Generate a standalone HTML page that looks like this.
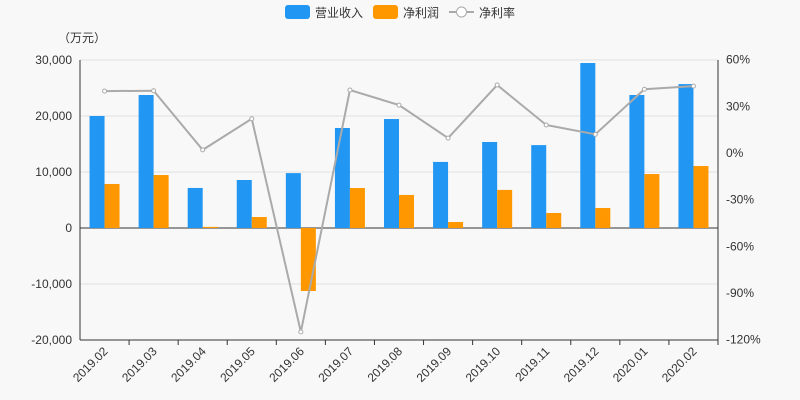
<!DOCTYPE html>
<html><head><meta charset="utf-8"><style>
body{margin:0;background:#f8f8f8;}
svg{display:block;font-family:"Liberation Sans","Noto Sans CJK SC",sans-serif;}
</style></head><body>
<svg id="c" width="800" height="400"></svg>
<script>
const categories=["2019.02","2019.03","2019.04","2019.05","2019.06","2019.07","2019.08","2019.09","2019.10","2019.11","2019.12","2020.01","2020.02"];
const revenue=[20000,23750,7150,8570,9800,17860,19460,11800,15360,14800,29460,23750,25700];
const profit=[7860,9460,200,1960,-11250,7140,5900,1070,6800,2680,3570,9640,11070];
const rate=[39.8,40,2,22,-115,40.5,30.8,9.6,43.7,18,12,41,43];
const leftTicks=[30000,20000,10000,0,-10000,-20000];
const leftLabels=["30,000","20,000","10,000","0","-10,000","-20,000"];
const rightTicks=[60,30,0,-30,-60,-90,-120];
const rightLabels=["60%","30%","0%","-30%","-60%","-90%","-120%"];
const NS="http://www.w3.org/2000/svg";
const svg=document.getElementById('c');
const X0=80,X1=718,step=(X1-X0)/categories.length;
const yL=v=>228-v*56/10000;
const yR=v=>153-v*(46.67/30);
const xc=i=>X0+step*(i+0.5);
function el(t,a,p){const e=document.createElementNS(NS,t);for(const k in a)e.setAttribute(k,a[k]);(p||svg).appendChild(e);return e;}
// grid
leftTicks.forEach((t,i)=>{
  const g=el('line',{x1:X0,x2:X1,y1:yL(t),y2:yL(t),stroke:t===0?'#333':'#e0e0e0','stroke-width':1});
  
  
  const tx=el('text',{x:X0-8,y:yL(t)+4,'text-anchor':'end','font-size':12,fill:'#333'});
  tx.textContent=leftLabels[i];
  
  
});
rightTicks.forEach((t,i)=>{
  const tx=el('text',{x:X1+8,y:yR(t)+4,'text-anchor':'start','font-size':12,fill:'#333'});
  tx.textContent=rightLabels[i];
  
  
});
const ax=el('line',{x1:X0,x2:X0,y1:60,y2:340,stroke:'#333'});


const ax2=el('line',{x1:X1,x2:X1,y1:60,y2:340,stroke:'#333'});


const ax3=el('line',{x1:X0,x2:X1,y1:340,y2:340,stroke:'#333'});


const unit=el('text',{x:82,y:42,'text-anchor':'middle','font-size':12,fill:'#333'});
unit.textContent='（万元）';


categories.forEach((c,i)=>{
  const cx=xc(i);
  const b=el('rect',{x:cx-15,y:Math.min(yL(revenue[i]),yL(0)),width:15,height:Math.abs(yL(revenue[i])-yL(0)),fill:'#2196f3'});
  
  
  const p=el('rect',{x:cx,y:Math.min(yL(profit[i]),yL(0)),width:15,height:Math.max(1,Math.abs(yL(profit[i])-yL(0))),fill:'#ff9800'});
  
  
  const tk=el('line',{x1:X0+step*(i+1),x2:X0+step*(i+1),y1:340,y2:345,stroke:'#333'});
  
  
  const t=el('text',{x:cx+4,y:352,'text-anchor':'end','font-size':12,fill:'#333',transform:`rotate(-45 ${cx+4} 352)`});
  t.textContent=c;
  
  
});
const line=el('polyline',{points:rate.map((v,i)=>xc(i)+','+yR(v)).join(' '),fill:'none',stroke:'#aaa','stroke-width':2});


rate.forEach((v,i)=>{
  const d=el('circle',{cx:xc(i),cy:yR(v),r:2,fill:'#fff',stroke:'#aaa','stroke-width':1});
  
  
});
// legend
const lg=el('g',{});


const l1=el('rect',{x:285,y:5,width:25,height:14,rx:3,fill:'#2196f3'},lg);


const t1=el('text',{x:315,y:17,'font-size':12,fill:'#333'},lg);t1.textContent='营业收入';


const l2=el('rect',{x:373,y:5,width:25,height:14,rx:3,fill:'#ff9800'},lg);


const t2=el('text',{x:403,y:17,'font-size':12,fill:'#333'},lg);t2.textContent='净利润';


const l3=el('line',{x1:449,x2:474,y1:12,y2:12,stroke:'#aaa','stroke-width':2},lg);


const l4=el('circle',{cx:461.5,cy:12,r:5,fill:'#fff',stroke:'#aaa'},lg);


const t3=el('text',{x:479,y:17,'font-size':12,fill:'#333'},lg);t3.textContent='净利率';


</script>
</body></html>
